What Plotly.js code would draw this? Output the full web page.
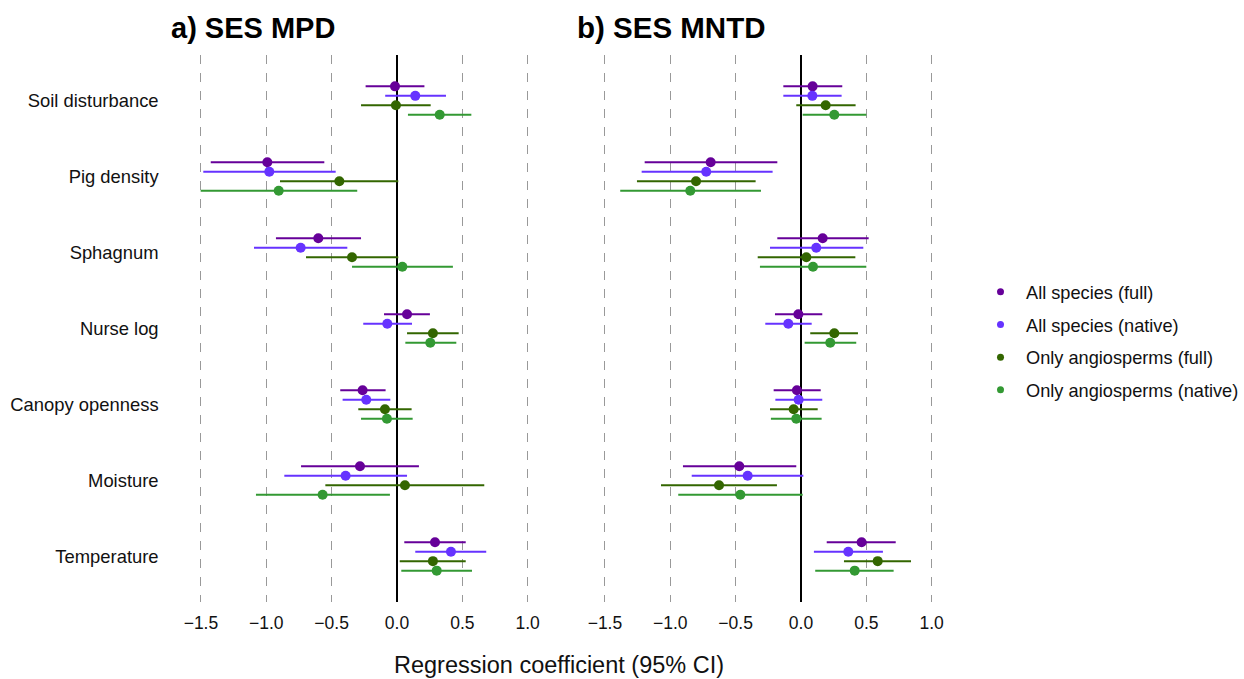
<!DOCTYPE html>
<html>
<head>
<meta charset="utf-8">
<script src="https://cdn.plot.ly/plotly-3.0.1.min.js"></script>
<style>html,body{margin:0;padding:0;background:#fff;}#chart{width:1244px;height:679px;}</style>
</head>
<body>
<div id="chart"></div>
<script>
// Categories (top to bottom)
const categories = ["Soil disturbance", "Pig density", "Sphagnum", "Nurse log", "Canopy openness", "Moisture", "Temperature"];
const seriesNames = ["All species (full)", "All species (native)", "Only angiosperms (full)", "Only angiosperms (native)"];
const seriesColors = ["#660099", "#6633ff", "#336600", "#339933"];
const xTicks = [-1.5, -1.0, -0.5, 0.0, 0.5, 1.0];
const xTickLabels = ["\u22121.5", "\u22121.0", "\u22120.5", "0.0", "0.5", "1.0"];

// a) SES MPD  — estimate, lower CI, upper CI per category
const mpdAllFull      = [-0.015, -0.992, -0.602,  0.077, -0.263, -0.283, 0.291];
const mpdAllFullLo    = [-0.240, -1.425, -0.926, -0.099, -0.434, -0.734, 0.056];
const mpdAllFullHi    = [ 0.210, -0.556, -0.275,  0.252, -0.087,  0.168, 0.526];
const mpdAllNat       = [ 0.140, -0.977, -0.737, -0.074, -0.235, -0.393, 0.413];
const mpdAllNatLo     = [-0.090, -1.482, -1.094, -0.258, -0.416, -0.862, 0.140];
const mpdAllNatHi     = [ 0.375, -0.469, -0.380,  0.115, -0.051,  0.077, 0.683];
const mpdAngFull      = [-0.008, -0.441, -0.344,  0.275, -0.092,  0.061, 0.275];
const mpdAngFullLo    = [-0.275, -0.895, -0.696,  0.077, -0.296, -0.548, 0.021];
const mpdAngFullHi    = [ 0.258,  0.010,  0.010,  0.472,  0.112,  0.668, 0.526];
const mpdAngNat       = [ 0.327, -0.905,  0.041,  0.255, -0.077, -0.569, 0.304];
const mpdAngNatLo     = [ 0.084, -1.502, -0.344,  0.064, -0.275, -1.079, 0.033];
const mpdAngNatHi     = [ 0.569, -0.304,  0.428,  0.454,  0.120, -0.054, 0.574];

// b) SES MNTD
const mntdAllFull     = [ 0.089, -0.691,  0.166, -0.020, -0.031, -0.472, 0.464];
const mntdAllFullLo   = [-0.135, -1.196, -0.181, -0.199, -0.209, -0.903, 0.197];
const mntdAllFullHi   = [ 0.316, -0.181,  0.518,  0.163,  0.151, -0.036, 0.725];
const mntdAllNat      = [ 0.087, -0.725,  0.117, -0.097, -0.018, -0.408, 0.362];
const mntdAllNatLo    = [-0.135, -1.219, -0.237, -0.273, -0.196, -0.836, 0.099];
const mntdAllNatHi    = [ 0.311, -0.217,  0.477,  0.082,  0.163,  0.018, 0.627];
const mntdAngFull     = [ 0.189, -0.803,  0.041,  0.255, -0.056, -0.627, 0.587];
const mntdAngFullLo   = [-0.036, -1.255, -0.331,  0.071, -0.237, -1.071, 0.329];
const mntdAngFullHi   = [ 0.418, -0.347,  0.416,  0.436,  0.128, -0.184, 0.842];
const mntdAngNat      = [ 0.255, -0.847,  0.092,  0.224, -0.036, -0.464, 0.411];
const mntdAngNatLo    = [ 0.013, -1.383, -0.314,  0.028, -0.230, -0.939, 0.109];
const mntdAngNatHi    = [ 0.500, -0.306,  0.500,  0.423,  0.158,  0.013, 0.709];

const panels = [
  {xa: "x", ya: "y", est: [mpdAllFull, mpdAllNat, mpdAngFull, mpdAngNat],
   lo: [mpdAllFullLo, mpdAllNatLo, mpdAngFullLo, mpdAngNatLo],
   hi: [mpdAllFullHi, mpdAllNatHi, mpdAngFullHi, mpdAngNatHi]},
  {xa: "x2", ya: "y2", est: [mntdAllFull, mntdAllNat, mntdAngFull, mntdAngNat],
   lo: [mntdAllFullLo, mntdAllNatLo, mntdAngFullLo, mntdAngNatLo],
   hi: [mntdAllFullHi, mntdAllNatHi, mntdAngFullHi, mntdAngNatHi]}
];

const dodge = 0.125;
const traces = [];
panels.forEach(p => {
  for (let s = 0; s < 4; s++) {
    const off = (s - 1.5) * dodge;
    const est = p.est[s];
    traces.push({
      type: "scatter", mode: "markers",
      x: est,
      y: categories.map((c, i) => i + off),
      xaxis: p.xa, yaxis: p.ya,
      marker: {color: seriesColors[s], size: 10},
      error_x: {type: "data", symmetric: false,
        array: est.map((v, i) => p.hi[s][i] - v),
        arrayminus: est.map((v, i) => v - p.lo[s][i]),
        color: seriesColors[s], thickness: 2, width: 0},
      showlegend: false, hoverinfo: "x"
    });
  }
});
// legend entries
for (let s = 0; s < 4; s++) {
  traces.push({type: "scatter", mode: "markers", x: [null], y: [null],
    name: seriesNames[s], legendgroup: "g" + s,
    marker: {color: seriesColors[s], size: 7}, showlegend: true});
}

const FONT = "Liberation Sans, Arial, sans-serif";
const xaxisBase = {
  range: [-1.625, 1.125], tickvals: xTicks, ticktext: xTickLabels,
  showgrid: true, gridcolor: "#999999", griddash: "dash", gridwidth: 1,
  zeroline: true, zerolinecolor: "#000000", zerolinewidth: 1.6,
  showline: false, ticks: "", ticklabelstandoff: 8,
  tickfont: {family: FONT, size: 17.5, color: "#111"}
};
const yaxisBase = {
  range: [6.6, -0.6], showgrid: false, zeroline: false, showline: false, ticks: ""
};

const plotTop = 55, plotH = 679 - 55 - 77;
const py = v => 1 - (v - plotTop) / plotH;

const layout = {
  width: 1244, height: 679,
  margin: {l: 0, r: 0, t: 55, b: 77},
  paper_bgcolor: "#ffffff", plot_bgcolor: "#ffffff",
  font: {family: FONT, color: "#111"},
  xaxis: Object.assign({}, xaxisBase, {domain: [184.6/1244, 544/1244], anchor: "y"}),
  xaxis2: Object.assign({}, xaxisBase, {domain: [588.6/1244, 948/1244], anchor: "y2"}),
  yaxis: Object.assign({}, yaxisBase, {anchor: "x",
    tickvals: categories.map((c, i) => i), ticktext: categories,
    ticklabelstandoff: 25,
    tickfont: {family: FONT, size: 18.4, color: "#111"}}),
  yaxis2: Object.assign({}, yaxisBase, {anchor: "x2", showticklabels: false}),
  showlegend: true,
  legend: {x: 975/1244, xanchor: "left", y: py(341), yanchor: "middle",
    traceorder: "grouped", tracegroupgap: 6, itemwidth: 41,
    font: {family: FONT, size: 18.2, color: "#111"},
    bgcolor: "rgba(0,0,0,0)"},
  annotations: [
    {text: "<b>a) SES MPD</b>", xref: "paper", yref: "paper", x: 169/1244, y: py(28),
     xanchor: "left", yanchor: "middle", showarrow: false,
     font: {family: FONT, size: 29, color: "#000"}},
    {text: "<b>b) SES MNTD</b>", xref: "paper", yref: "paper", x: 575/1244, y: py(28),
     xanchor: "left", yanchor: "middle", showarrow: false,
     font: {family: FONT, size: 29.5, color: "#000"}},
    {text: "Regression coefficient (95% CI)", xref: "paper", yref: "paper", x: 559/1244, y: py(665),
     xanchor: "center", yanchor: "middle", showarrow: false,
     font: {family: FONT, size: 23.5, color: "#111"}}
  ]
};

Plotly.newPlot("chart", traces, layout, {staticPlot: true});
</script>
</body>
</html>
